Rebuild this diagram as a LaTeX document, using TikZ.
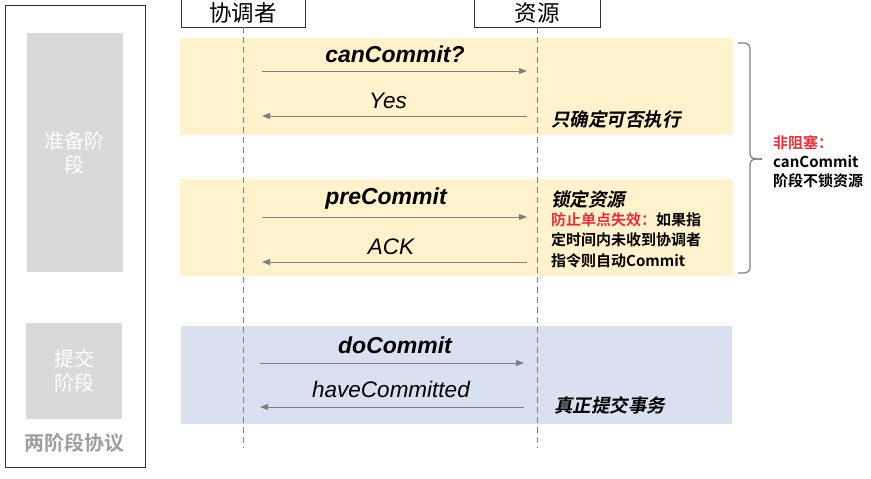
\documentclass[tikz,border=0pt]{standalone}
\usepackage{fontspec}
\setmainfont{Liberation Sans}
\newfontfamily\cjk{Noto Sans CJK SC}[BoldFont={Noto Sans CJK SC Bold}]
\newfontfamily\cjksl{Noto Sans CJK SC Bold}[FakeSlant=0.2]
\usetikzlibrary{positioning,arrows.meta}
\definecolor{bandyellow}{HTML}{FFF2CC}
\definecolor{bandblue}{HTML}{DAE0EF}
\definecolor{phasegray}{HTML}{D9D9D9}
\definecolor{msggray}{HTML}{7F7F7F}
\definecolor{warnred}{HTML}{E0343C}

\begin{document}
\begin{tikzpicture}[
  x=1pt,y=-1pt,
  frame/.style={draw=black!80,line width=1pt,minimum width=140pt,minimum height=462pt,inner sep=0pt},
  phase/.style={fill=phasegray,minimum width=96pt,align=center,inner sep=0pt,
                text=white,font=\cjk\fontsize{20}{24}\selectfont},
  actor/.style={draw=black!80,line width=0.8pt,minimum height=28pt,inner sep=0pt,
                font=\cjk\fontsize{22.5}{24}\selectfont},
  band/.style={minimum width=553pt,minimum height=97pt,inner sep=0pt},
  life/.style={msggray,line width=0.8pt,dash pattern=on 6pt off 4pt},
  msg/.style={msggray,line width=1pt,-{Triangle[length=8pt,width=6pt]}},
  req/.style={font=\bfseries\itshape\fontsize{23}{24}\selectfont},
  rep/.style={font=\itshape\fontsize{22.5}{24}\selectfont},
  note/.style={anchor=west,inner sep=0pt,font=\cjksl\fontsize{18.5}{20}\selectfont},
  small/.style={anchor=west,inner sep=0pt,align=left,font=\cjk\bfseries\fontsize{15}{20.5}\selectfont},
  brace/.style={msggray,line width=1.2pt,rounded corners=5pt}
]
\useasboundingbox (0,0) rectangle (871,479);

% left column: protocol phases
\node[frame] (proto) at (75,236) {};
\node[phase,minimum height=239pt] (prep) at (75,152.5) {准备阶\\段};
\node[phase,minimum height=96pt] (commit) at (74,371) {提交\\阶段};
\node[font=\cjk\bfseries\fontsize{20}{24}\selectfont,text=black!38] (title) at (74,443) {两阶段协议};

% bands
\node[band,fill=bandyellow] (b1) at (456.5,86.5) {};
\node[band,fill=bandyellow] (b2) at (456.5,227.5) {};
\node[band,fill=bandblue,minimum height=98pt,minimum width=551pt] (b3) at (456.5,375) {};

% actors and lifelines
\node[actor,minimum width=124pt] (coord) at (243,13) {协调者};
\node[actor,minimum width=126pt] (res) at (537,13) {资源};
\coordinate (coordend) at (243,448);
\coordinate (resend) at (537,448);
\draw[life] (coord.south)--(coordend);
\draw[life] (res.south)--(resend);

% messages
\foreach \i/\y/\a/\b in {1/71/262/527,2/116/262/527,3/217/262/527,4/262/262/527,5/363/260/524,6/407/260/524}
  {\coordinate (m\i l) at (\a,\y);
   \coordinate (m\i r) at (\b,\y);}
\foreach \i in {1,3,5}
  {\draw[msg] (m\i l)--(m\i r);}
\foreach \i in {2,4,6}
  {\draw[msg] (m\i r)--(m\i l);}

\node[req] (lcan) at (395,54) {canCommit?};
\node[rep] (lyes) at (388,101) {Yes};
\node[req] (lpre) at (386,199) {preCommit};
\node[rep] (lack) at (391,247) {ACK};
\node[req] (ldo) at (395,345) {doCommit};
\node[rep] (lhave) at (391,389) {haveCommitted};

% notes
\node[note] (n1) at (551,119) {只确定可否执行};
\node[note] (n2) at (551,199) {锁定资源};
\node[small] (n3) at (551,240)
  {\textcolor{warnred}{防止单点失效：}如果指\\定时间内未收到协调者\\指令则自动Commit};
\node[note] (n4) at (554,405) {真正提交事务};

% brace
\coordinate (btop) at (738,43);
\coordinate (bbot) at (738,273);
\coordinate (bspine) at (750,159);
\coordinate (btip) at (762,159);
\draw[brace] (btop) -| (bspine) -- (btip);
\draw[brace] (bbot) -| (bspine) -- (btip);
\node[small,align=left,font=\cjk\bfseries\fontsize{15}{19}\selectfont] (nb) at (773,162)
  {\textcolor{warnred}{非阻塞：}\\canCommit\\阶段不锁资源};
\end{tikzpicture}
\end{document}
